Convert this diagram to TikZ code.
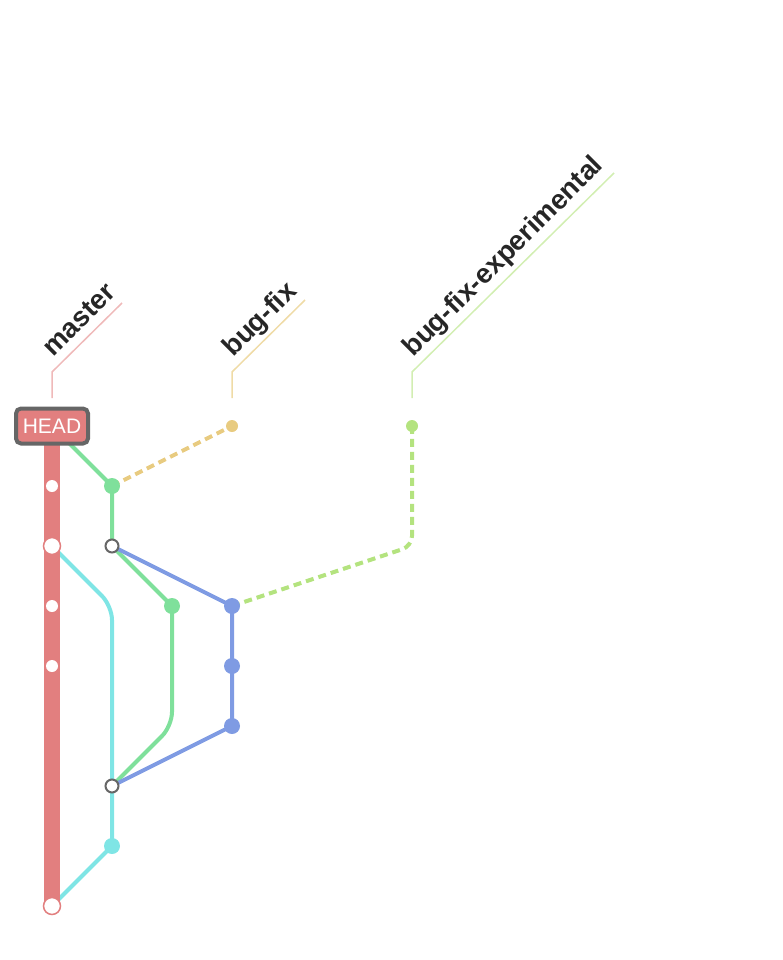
\documentclass[tikz,border=0pt]{standalone}
\usepackage{fontspec}
\setmainfont{Liberation Sans}
\usetikzlibrary{backgrounds}
\definecolor{masterred}{HTML}{E27F7F}
\definecolor{fixgreen}{HTML}{7FE09B}
\definecolor{featblue}{HTML}{7F9BE3}
\definecolor{hotcyan}{HTML}{7FE5E5}
\definecolor{fixyellow}{HTML}{E8CB80}
\definecolor{explime}{HTML}{B4E37F}
\definecolor{darkgrey}{HTML}{666666}
\begin{document}
\begin{tikzpicture}[x=1pt,y=-1pt,
    commit/.style={circle,inner sep=0pt,minimum size=16pt,fill=#1},
    tipdot/.style={circle,inner sep=0pt,minimum size=12pt,fill=#1},
    masterdot/.style={circle,inner sep=0pt,minimum size=12pt,fill=white},
    mastermerge/.style={circle,inner sep=0pt,minimum size=17pt,fill=white,draw=masterred,line width=1.5pt},
    mergedot/.style={circle,inner sep=0pt,minimum size=13pt,fill=white,draw=darkgrey,line width=2pt},
    branch/.style={#1,line width=4pt},
    dashbranch/.style={#1,line width=4pt,dash pattern=on 8pt off 5pt},
    tagline/.style={#1,line width=1.5pt},
    tag/.style={rotate=45,anchor=base west,inner sep=0pt,text=black!85,font=\bfseries\fontsize{27.5}{30}\selectfont}]
\useasboundingbox (0,0) rectangle (782,960);
% commits
\node[rectangle,rounded corners=5pt,fill=masterred,draw=darkgrey,line width=4pt,
      minimum width=72pt,minimum height=35pt,inner sep=0pt,text=white,
      font=\fontsize{21}{24}\selectfont] (head) at (52,426) {HEAD};
\node[masterdot] (m1) at (52,486) {};
\node[mastermerge] (m2) at (52,546) {};
\node[masterdot] (m3) at (52,606) {};
\node[masterdot] (m4) at (52,666) {};
\node[mastermerge] (m5) at (52,906) {};
\node[commit=fixgreen] (g1) at (112,486) {};
\node[mergedot] (g2) at (112,546) {};
\node[commit=fixgreen] (g3) at (172,606) {};
\node[commit=featblue] (b1) at (232,606) {};
\node[commit=featblue] (b2) at (232,666) {};
\node[commit=featblue] (b3) at (232,726) {};
\node[mergedot] (c1) at (112,786) {};
\node[commit=hotcyan] (c2) at (112,846) {};
\node[tipdot=fixyellow] (y1) at (232,426) {};
\node[tipdot=explime] (e1) at (412,426) {};
% branch labels
\node[tag] (lmaster) at (53,358) {master};
\node[tag] (lfix) at (233,358) {bug-fix};
\node[tag] (lexp) at (413,358) {bug-fix-experimental};
\draw[tagline=masterred!55] (52,398) -- (52,372) -- (122,303);
\draw[tagline=fixyellow!70] (232,398) -- (232,372) -- (305,300);
\draw[tagline=explime!60] (412,398) -- (412,372) -- (614,173);
\begin{pgfonlayer}{background}
  \draw[branch=hotcyan,rounded corners=14pt] (m2.center) -- (c1.center |- m3.center) -- (c1.center);
  \draw[branch=hotcyan] (c1.center) -- (c2.center) -- (m5.center);
  \draw[masterred,line width=16pt] (head.center) -- (m5.center);
  \draw[branch=fixgreen] (head.center) -- (g1.center) -- (g2.center) -- (g3.center);
  \draw[branch=fixgreen,rounded corners=14pt] (g3.center) -- (g3.center |- b3.center) -- (c1.center);
  \draw[branch=featblue] (g2.center) -- (b1.center) -- (b2.center) -- (b3.center) -- (c1.center);
  \draw[dashbranch=fixyellow] (g1.center) -- (y1.center);
  \draw[dashbranch=explime,rounded corners=10pt] (b1.center) -- (e1.center |- g2.center) -- (e1.center);
\end{pgfonlayer}
\end{tikzpicture}
\end{document}
